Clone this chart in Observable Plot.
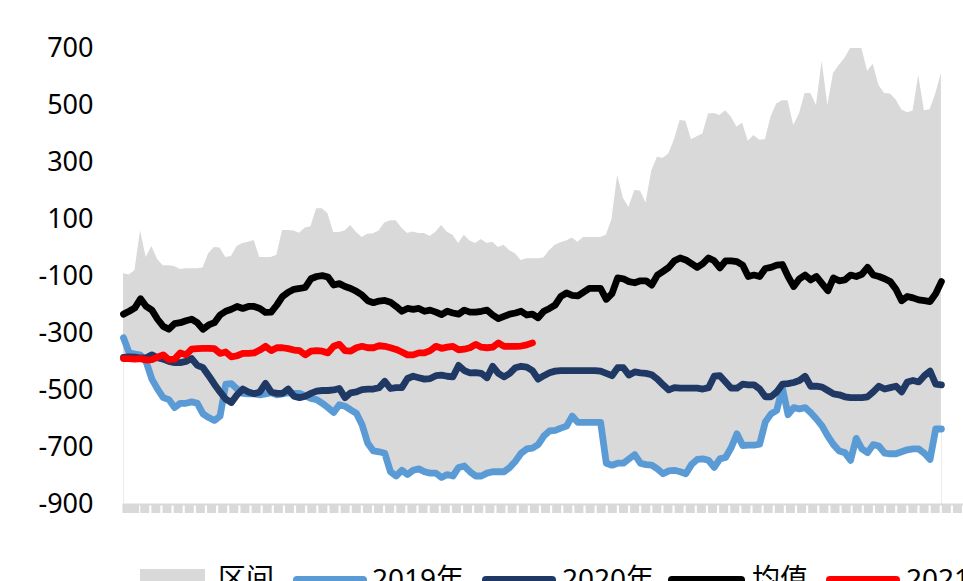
<!DOCTYPE html>
<html><head><meta charset="utf-8">
<script src="https://cdn.jsdelivr.net/npm/d3@7"></script>
<script src="https://cdn.jsdelivr.net/npm/@observablehq/plot@0.6"></script>
<style>
html,body{margin:0;padding:0;background:#fff;overflow:hidden}
#wrap{position:relative;width:963px;height:581px;overflow:hidden;font-family:"Noto Sans","Noto Sans CJK SC",sans-serif}
#chart{position:absolute;left:0;top:0}
.sw{position:absolute}
.lt{position:absolute;font-size:28px;line-height:28px;color:#000;white-space:nowrap}
</style></head><body>
<div id="wrap"><div id="chart"></div><div id="legend"></div></div>
<script>
const yTicks = [-900,-700,-500,-300,-100,100,300,500,700];
const seriesNames = ["区间","2019年","2020年","均值","2021年"];
const seriesColors = ["#d9d9d9","#5b9bd5","#1f3864","#000000","#ff0000"];

const s2019 = [-315,-368,-372,-376,-400,-460,-495,-525,-532,-560,
-545,-545,-540,-545,-582,-595,-605,-590,-478,-476,
-495,-510,-512,-512,-515,-512,-508,-515,-512,-508,
-510,-510,-518,-528,-532,-545,-560,-577,-550,-555,
-568,-580,-620,-685,-712,-715,-720,-785,-800,-780,
-795,-780,-775,-785,-790,-790,-805,-795,-800,-770,
-765,-785,-800,-800,-790,-785,-785,-785,-770,-748,
-720,-705,-702,-690,-660,-642,-640,-632,-625,-590,
-612,-612,-612,-612,-612,-755,-762,-755,-755,-740,
-725,-755,-760,-762,-775,-792,-782,-780,-785,-792,
-760,-742,-740,-745,-770,-740,-735,-700,-652,-693,
-692,-692,-688,-610,-582,-570,-490,-585,-560,-565,
-560,-578,-600,-625,-660,-690,-712,-718,-745,-668,
-705,-718,-690,-695,-720,-722,-722,-715,-708,-705,
-705,-720,-742,-635,-635];

const s2020 = [-384,-382,-383,-386,-385,-375,-385,-390,-398,-402,
-402,-398,-388,-412,-420,-448,-478,-505,-530,-542,
-515,-495,-505,-511,-505,-475,-505,-510,-510,-495,
-520,-525,-520,-510,-502,-500,-500,-498,-493,-525,
-508,-505,-497,-495,-495,-490,-468,-493,-490,-490,
-458,-450,-455,-460,-458,-448,-446,-450,-452,-412,
-430,-438,-437,-440,-455,-415,-440,-452,-440,-420,
-415,-418,-430,-460,-448,-438,-432,-430,-430,-430,
-430,-430,-430,-430,-432,-440,-448,-420,-420,-446,
-435,-438,-440,-445,-460,-480,-498,-490,-492,-492,
-492,-492,-495,-490,-450,-448,-470,-492,-492,-478,
-480,-480,-495,-522,-522,-505,-478,-476,-472,-465,
-450,-485,-485,-488,-500,-512,-515,-522,-525,-525,
-525,-522,-505,-485,-495,-490,-485,-505,-470,-465,
-470,-448,-432,-478,-480];

const sMean = [-232,-222,-210,-178,-205,-218,-250,-275,-285,-265,
-262,-255,-250,-262,-285,-270,-262,-235,-222,-215,
-205,-212,-205,-205,-212,-226,-225,-200,-170,-155,
-145,-142,-138,-108,-100,-97,-102,-130,-125,-135,
-142,-152,-165,-185,-192,-186,-184,-190,-205,-222,
-212,-215,-212,-222,-218,-225,-234,-222,-228,-232,
-218,-225,-225,-222,-218,-235,-248,-240,-232,-228,
-222,-235,-232,-245,-222,-212,-200,-170,-158,-166,
-168,-155,-142,-142,-142,-180,-160,-105,-108,-118,
-122,-115,-115,-130,-95,-82,-68,-45,-35,-42,
-55,-68,-55,-35,-45,-70,-45,-45,-48,-60,
-100,-95,-100,-72,-68,-60,-58,-100,-135,-108,
-95,-112,-100,-125,-150,-105,-115,-112,-95,-100,
-92,-68,-95,-100,-108,-118,-145,-185,-170,-175,
-182,-185,-188,-160,-118];

const s2021 = [-388,-388,-390,-388,-393,-392,-383,-375,-392,-390,
-368,-375,-355,-353,-352,-352,-353,-370,-365,-382,
-378,-370,-370,-368,-358,-345,-360,-350,-350,-353,
-358,-360,-375,-362,-360,-362,-368,-345,-338,-360,
-362,-350,-345,-350,-350,-343,-345,-350,-356,-365,
-375,-375,-368,-368,-360,-345,-352,-348,-345,-357,
-355,-350,-338,-348,-350,-348,-333,-345,-345,-345,
-344,-340,-333];

const rangeUpper = [-90,-95,-80,60,-33,5,-40,-62,-62,-65,
-75,-73,-73,-73,-70,-20,2,0,-33,-30,
5,16,20,26,-33,-33,-33,-25,61,61,
60,52,70,75,138,138,120,54,54,60,
79,55,37,48,50,60,88,96,96,70,
51,56,51,51,40,55,79,55,45,16,
45,25,16,30,16,20,2,10,-10,-20,
-44,-38,-38,-38,-35,-10,10,18,25,35,
20,37,37,37,37,45,100,255,175,142,
202,200,158,270,318,315,330,380,447,445,
380,390,400,470,472,465,482,460,425,438,
375,395,378,380,460,505,517,517,430,470,
542,542,500,655,500,612,640,665,703,705,
700,620,645,570,542,540,520,485,475,480,
605,482,485,540,612];

const n = rangeUpper.length;
const idx = d3.range(n);
const lower = i => d3.min([s2019[i], s2020[i], s2021[i]].filter(v => v != null));

const W = 963, ML = 123, MR = 0;
const step = 5.68;
const xMax = (W - ML - MR) / step;

const tickPeriod = 1.96, tickStart = 3.74;
const xTickBlocks = [0.6, 1.95].concat(d3.range(tickStart, xMax - 0.5, tickPeriod));

const lineOpts = c => ({x: (d, i) => i, y: d => d, stroke: c, strokeWidth: 6.8, strokeLinejoin: "round", strokeLinecap: "round"});

const plot = Plot.plot({
  width: W, height: 520,
  marginLeft: ML, marginRight: MR, marginTop: 48, marginBottom: 16,
  style: {fontFamily: '"Noto Sans","Noto Sans CJK SC",sans-serif', fontSize: "27px", background: "white", color: "#000"},
  x: {domain: [0, xMax], axis: null},
  y: {domain: [d3.min(yTicks), d3.max(yTicks)], clamp: true, axis: null},
  marks: [
    Plot.areaY(idx, {x: i => i, y1: i => lower(i), y2: i => rangeUpper[i], fill: seriesColors[0], curve: "linear"}),
    Plot.ruleX([0, n - 1], {y1: d3.min(yTicks), y2: i => lower(i), stroke: "#ececec", strokeWidth: 1}),
    Plot.ruleY([d3.min(yTicks)], {stroke: "#d9d9d9", strokeWidth: 2}),
    Plot.axisX(xTickBlocks, {tickSize: 9, stroke: "#d9d9d9", strokeWidth: 9, tickFormat: () => "", label: null}),
    Plot.axisY(yTicks, {tickSize: 0, tickPadding: 30, tickFormat: d => String(d), fontSize: 27, label: null}),
    Plot.lineY(s2019, lineOpts(seriesColors[1])),
    Plot.lineY(s2020, lineOpts(seriesColors[2])),
    Plot.lineY(sMean, lineOpts(seriesColors[3])),
    Plot.lineY(s2021, lineOpts(seriesColors[4]))
  ]
});
document.getElementById("chart").appendChild(plot);

const legendSwatchLeft = [140, 293, 482, 668, 826];
const legendSwatchWidth = [65, 74, 74, 77, 74];
const legendTextLeft = [218, 372, 562, 752, 906];
const lg = document.getElementById("legend");
seriesNames.forEach((name, k) => {
  const sw = document.createElement("div");
  sw.className = "sw";
  sw.style.left = legendSwatchLeft[k] + "px";
  sw.style.width = legendSwatchWidth[k] + "px";
  sw.style.background = seriesColors[k];
  if (k === 0) { sw.style.top = "569px"; sw.style.height = "20px"; }
  else { sw.style.top = "576px"; sw.style.height = "8px"; sw.style.borderRadius = "4px"; }
  lg.appendChild(sw);
  const t = document.createElement("div");
  t.className = "lt";
  t.style.left = legendTextLeft[k] + "px";
  t.style.top = "564px";
  t.textContent = name;
  lg.appendChild(t);
});
</script>
</body></html>
